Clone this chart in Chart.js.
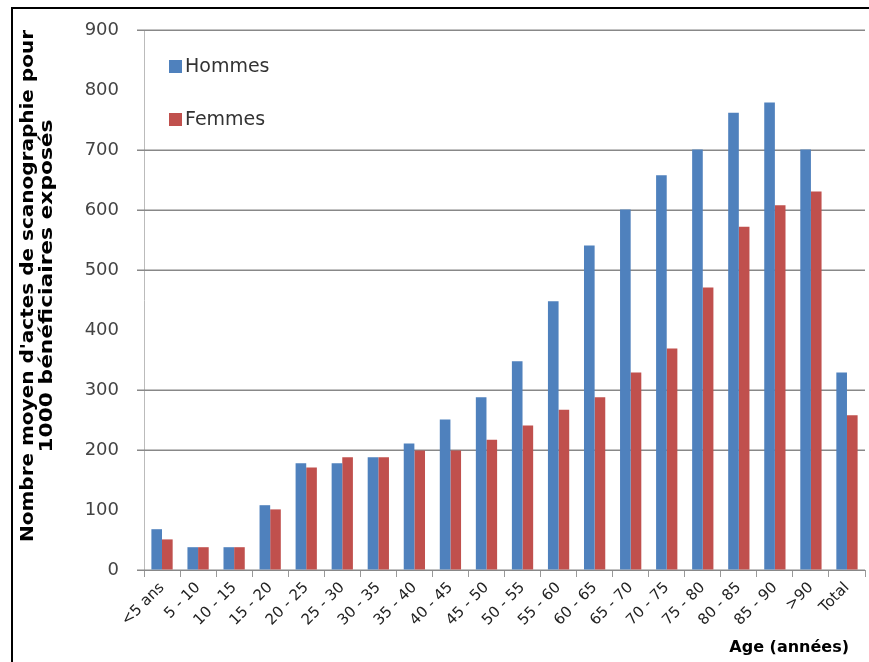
<!DOCTYPE html>
<html><head><meta charset="utf-8">
<script src="https://cdn.jsdelivr.net/npm/chart.js@4.4.1/dist/chart.umd.min.js"></script>
<style>html,body{margin:0;padding:0;background:#fff;}#wrap{position:relative;width:869px;height:662px;}</style>
</head><body><div id="wrap"><canvas id="c" width="869" height="662"></canvas></div>
<script>
const categories = ['<5 ans','5 - 10','10 - 15','15 - 20','20 - 25','25 - 30','30 - 35','35 - 40','40 - 45','45 - 50','50 - 55','55 - 60','60 - 65','65 - 70','70 - 75','75 - 80','80 - 85','85 - 90','>90','Total'];
const hommes = [68,38,38,108,178,178,188,211,251,288,348,448,541,601,658,701,762,779,701,329];
const femmes = [51,38,38,101,171,188,188,199,199,217,241,267,288,329,369,471,572,608,631,258];
const seriesLabels = ['Hommes','Femmes'];
const yTitleLines = ["Nombre moyen d'actes de scanographie pour", "1000 bénéficiaires exposés"];
const xTitle = 'Age (années)';
// gridlines that show in the reference picture (100, 400 and 800 are not visible there)
const visibleGridValues = [0, 200, 300, 500, 600, 700, 900];

function drawStretched(ctx, text, target, x, y){
  const w = ctx.measureText(text).width;
  ctx.save();
  ctx.translate(x, y);
  ctx.scale(target / w, 1);
  ctx.fillText(text, 0, 0);
  ctx.restore();
}

const gridPlugin = {
  id: 'gridPlugin',
  beforeDatasetsDraw(chart){
    const ctx = chart.ctx, a = chart.chartArea, ys = chart.scales.y;
    ctx.save();
    ctx.strokeStyle = '#888'; ctx.lineWidth = 1.5;
    visibleGridValues.forEach(v => {
      const py = Math.round(ys.getPixelForValue(v)) + 0.25;
      ctx.beginPath(); ctx.moveTo(a.left - 7, py); ctx.lineTo(a.right, py); ctx.stroke();
    });
    ctx.restore();
  }
};

const decor = {
  id: 'decor',
  afterDraw(chart){
    const ctx = chart.ctx;
    ctx.save();
    // frame
    ctx.strokeStyle = '#000'; ctx.lineWidth = 2;
    ctx.beginPath(); ctx.moveTo(12, 700); ctx.lineTo(12, 8); ctx.lineTo(900, 8); ctx.stroke();
    // legend
    const ds = chart.data.datasets;
    const lx = 169, ly = [67, 120];
    ctx.textAlign = 'left'; ctx.textBaseline = 'middle';
    ctx.font = '19px "DejaVu Sans"';
    ds.forEach((d, i) => {
      ctx.fillStyle = d.backgroundColor;
      ctx.fillRect(lx, ly[i] - 7, 13, 13);
      ctx.fillStyle = '#333';
      ctx.fillText(d.label, lx + 16, ly[i]);
    });
    // x title
    ctx.fillStyle = '#000';
    ctx.textAlign = 'right';
    ctx.font = 'bold 16px "DejaVu Sans"';
    ctx.fillText(xTitle, 849, 648);
    // y title
    ctx.translate(29, 286); ctx.rotate(-Math.PI / 2);
    ctx.textAlign = 'center';
    ctx.font = 'bold 17px "DejaVu Sans"';
    drawStretched(ctx, yTitleLines[0], 512, 0, 0);
    drawStretched(ctx, yTitleLines[1], 333, 0, 19);
    ctx.restore();
  }
};

new Chart(document.getElementById('c'), {
  type: 'bar',
  data: {
    labels: categories,
    datasets: [
      { label: seriesLabels[0], data: hommes, backgroundColor: '#4F81BD' },
      { label: seriesLabels[1], data: femmes, backgroundColor: '#C0504D' }
    ]
  },
  options: {
    responsive: false,
    animation: false,
    devicePixelRatio: 1,
    layout: { padding: { top: 30, right: 4, left: 0, bottom: 0 } },
    datasets: { bar: { categoryPercentage: 0.59, barPercentage: 1.0 } },
    plugins: { legend: { display: false }, tooltip: { enabled: false } },
    scales: {
      x: {
        grid: { offset: true, drawOnChartArea: false, drawTicks: true, tickLength: 7, color: '#999', tickColor: '#999' },
        border: { color: '#999', width: 1 },
        ticks: { autoSkip: false, minRotation: 45, maxRotation: 45, padding: 2, color: '#222', font: { family: 'DejaVu Sans', size: 15 } },
        afterFit(s){ s.height = 92; }
      },
      y: {
        min: 0, max: 900,
        ticks: { stepSize: 100, padding: 18, color: '#444', font: { family: 'DejaVu Sans', size: 18 } },
        grid: { tickLength: 7, color: 'rgba(0,0,0,0)', tickColor: 'rgba(0,0,0,0)' },
        border: { display: true, color: '#bbb', width: 1 },
        afterFit(s){ s.width = 144; }
      }
    }
  },
  plugins: [gridPlugin, decor]
});
</script>
</body></html>
